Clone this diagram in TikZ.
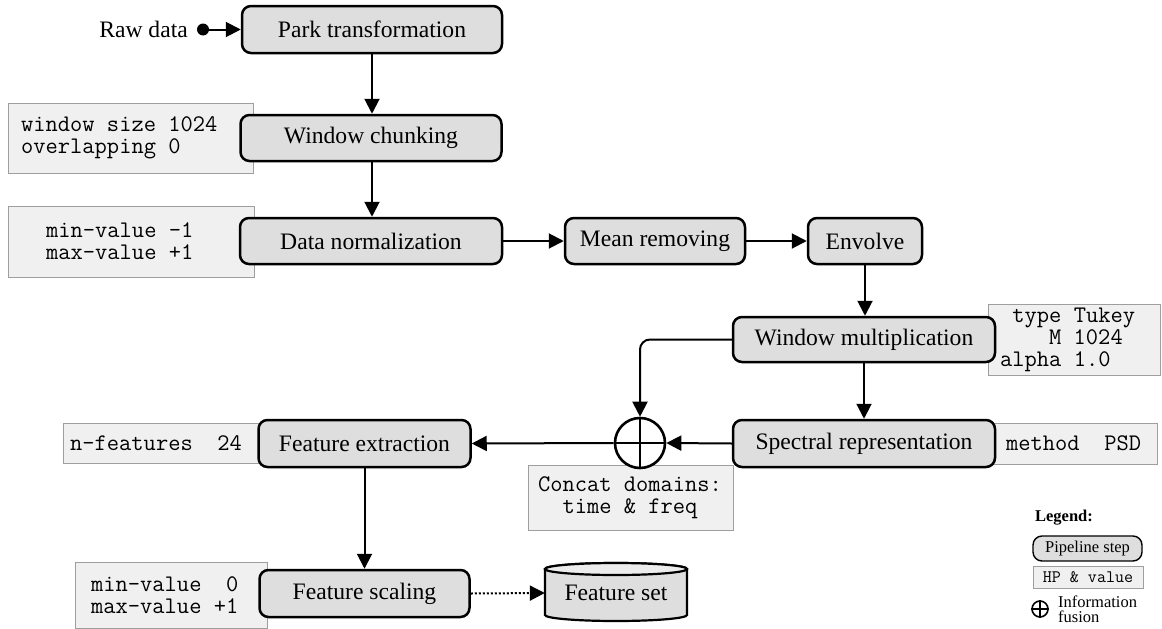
\documentclass[tikz,border=0pt]{standalone}
\usepackage{fontspec}
\setmainfont{Liberation Serif}
\usetikzlibrary{arrows.meta}
\definecolor{stepfill}{HTML}{DEDEDE}
\definecolor{topfill}{HTML}{ECECEC}
\definecolor{hpfill}{HTML}{F0F0F0}
\definecolor{hpdraw}{HTML}{9E9E9E}
\begin{document}
\begin{tikzpicture}[x=1pt,y=-1pt,
  stepbox/.style={draw=black, line width=2.5pt, fill=stepfill, rounded corners=9pt,
    font=\fontsize{23.6}{26}\selectfont, inner sep=0pt},
  hpbox/.style={draw=hpdraw, line width=1pt, fill=hpfill, inner sep=0pt},
  hptext/.style={font=\ttfamily\fontsize{23.8}{22}\selectfont, inner sep=0pt, align=left},
  arr/.style={line width=2pt, -{Triangle[length=15pt,width=15pt]}},
  fusecirc/.style={circle, draw=black, fill=white, inner sep=0pt},
  legtext/.style={font=\fontsize{16.5}{15.5}\selectfont, inner sep=0pt}]
\useasboundingbox (0,0) rectangle (1162,629);

% ---------- HP boxes (behind the steps) ----------
\node[hpbox, minimum width=245pt, minimum height=70pt] (chunkhp) at (130.5,138) {};
\node[hptext, anchor=west] (chunkhpt) at (21,138) {window size 1024\\overlapping 0};

\node[hpbox, minimum width=246pt, minimum height=71pt] (normhp) at (131,241.5) {};
\node[hptext, anchor=west] (normhpt) at (46,241.5) {min-value -1\\max-value +1};

\node[hpbox, minimum width=172pt, minimum height=71pt] (tukeyhp) at (1074,339.5) {};
\node[hptext, anchor=west] (tukeyhpt) at (1000,340) {\begin{tabular}{@{}r@{\ }l@{}}type & Tukey\\ M & 1024\\ alpha & 1.0\end{tabular}};

\node[hpbox, minimum width=167pt, minimum height=41pt] (psdhp) at (1073.5,443.5) {};
\node[hptext, anchor=west] (psdhpt) at (1006,443.5) {method\ \ PSD};

\node[hpbox, minimum width=205pt, minimum height=65pt] (concathp) at (630.5,497.5) {};
\node[hptext, align=center] (concathpt) at (630,498) {Concat domains:\\time \& freq};

\node[hpbox, minimum width=199pt, minimum height=40pt] (nfeathp) at (162.5,443) {};
\node[hptext, anchor=west] (nfeathpt) at (70,443) {n-features\ \ 24};

\node[hpbox, minimum width=192pt, minimum height=66pt] (scalehp) at (171,595) {};
\node[hptext, anchor=west] (scalehpt) at (91,595) {min-value\ \ 0\\max-value +1};

% ---------- pipeline steps ----------
\node[font=\fontsize{23.6}{26}\selectfont, anchor=east, inner sep=0pt] (raw) at (188,29.5) {Raw data};
\coordinate (dot) at (203,29.5);
\fill (dot) circle (6pt);

\node[stepbox, minimum width=260pt, minimum height=47pt] (park) at (372,29.5) {Park transformation};
\node[stepbox, minimum width=261pt, minimum height=46pt] (chunk) at (371,138) {Window chunking};
\node[stepbox, minimum width=262pt, minimum height=46pt] (norm) at (371,241) {Data normalization};
\node[stepbox, minimum width=180pt, minimum height=46pt] (mean) at (655,241) {Mean removing};
\node[stepbox, minimum width=114pt, minimum height=46pt] (env) at (865,241) {Envolve};
\node[stepbox, minimum width=262pt, minimum height=45pt] (wm) at (864,339.5) {Window multiplication};
\node[stepbox, minimum width=262pt, minimum height=47pt] (spec) at (864,443.5) {Spectral representation};
\node[stepbox, minimum width=212pt, minimum height=47pt] (fext) at (364.5,443.5) {Feature extraction};
\node[stepbox, minimum width=210pt, minimum height=47pt] (fscale) at (364.5,593.5) {Feature scaling};

% fusion circle
\node[fusecirc, line width=2.6pt, minimum size=50pt] (fuse) at (640,443) {};
\draw[line width=2pt] (fuse.north) -- (fuse.south) (fuse.west) -- (fuse.east);

% feature set cylinder
\filldraw[fill=stepfill, line width=2.2pt] (545,569) -- (545,615)
  arc[start angle=180, end angle=360, x radius=71pt, y radius=6pt] -- (687,569)
  arc[start angle=0, end angle=180, x radius=71pt, y radius=6pt] -- cycle;
\draw[fill=topfill, line width=2.2pt] (616,569) ellipse [x radius=71pt, y radius=6pt];
\node[font=\fontsize{23.6}{26}\selectfont, minimum width=142pt, minimum height=58pt, inner sep=0pt] (fset) at (616,593) {\raisebox{-3pt}{Feature set}};

% ---------- connectors ----------
\draw[arr] (dot) -- (park.west);
\draw[arr] (park.south) -- (park.south |- chunk.north);
\draw[arr] (park.south |- chunk.south) -- (park.south |- norm.north);
\draw[arr] (norm.east) -- (mean.west);
\draw[arr] (mean.east) -- (env.west);
\draw[arr] (env.south) -- (env.south |- wm.north);
\draw[arr, rounded corners=10pt] (wm.west) -| (fuse.north);
\draw[arr] (wm.south) -- (spec.north);
\draw[arr] (spec.west) -- (fuse.east);
\draw[arr] (fuse.west) -- (fext.east);
\draw[arr] (fext.south) -- (fscale.north);
\draw[line width=2pt, dash pattern=on 2pt off 2pt, -{Triangle[length=15pt,width=15pt]}] (fscale.east) -- (fset.west);

% ---------- legend ----------
\node[font=\bfseries\fontsize{16.5}{17}\selectfont, inner sep=0pt] (legtitle) at (1064,518) {Legend:};
\node[draw=black, line width=1.4pt, fill=stepfill, rounded corners=9pt, minimum width=109pt,
  minimum height=25pt, inner sep=0pt, font=\fontsize{16.5}{17}\selectfont] (legstep) at (1087.5,548.5) {Pipeline step};
\node[hpbox, minimum width=110pt, minimum height=22pt, font=\ttfamily\fontsize{17.5}{17}\selectfont] (leghp) at (1088,577) {HP \& value};
\node[fusecirc, line width=1.6pt, minimum size=16pt] (legfuse) at (1040,609) {};
\draw[line width=1.3pt] (legfuse.north) -- (legfuse.south) (legfuse.west) -- (legfuse.east);
\node[legtext, align=left, anchor=west] (legfusetxt) at (1058,609.5) {Information\\fusion};
\end{tikzpicture}
\end{document}
